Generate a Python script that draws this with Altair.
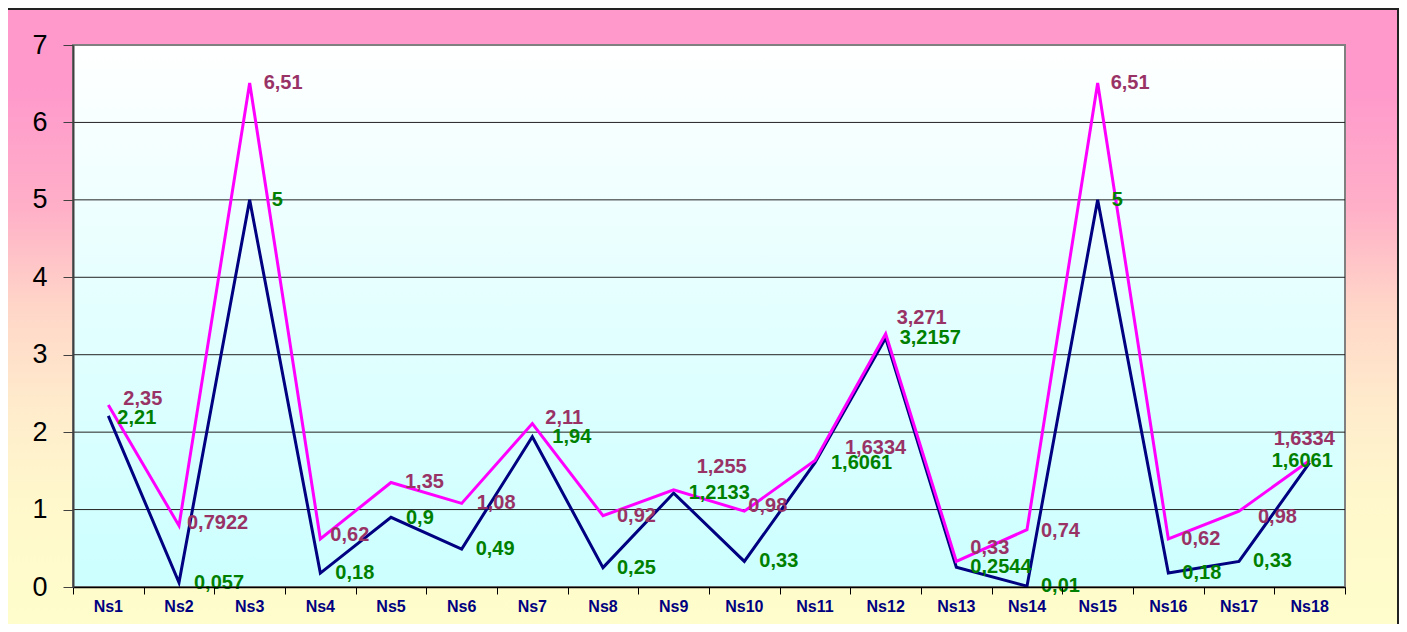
import altair as alt
import pandas as pd

categories = ["Ns1", "Ns2", "Ns3", "Ns4", "Ns5", "Ns6", "Ns7", "Ns8", "Ns9",
              "Ns10", "Ns11", "Ns12", "Ns13", "Ns14", "Ns15", "Ns16", "Ns17", "Ns18"]
series_navy = [2.21, 0.057, 5, 0.18, 0.9, 0.49, 1.94, 0.25, 1.2133, 0.33,
               1.6061, 3.2157, 0.2544, 0.01, 5, 0.18, 0.33, 1.6061]
series_magenta = [2.35, 0.7922, 6.51, 0.62, 1.35, 1.08, 2.11, 0.92, 1.255, 0.98,
                  1.6334, 3.271, 0.33, 0.74, 6.51, 0.62, 0.98, 1.6334]
y_ticks = [0, 1, 2, 3, 4, 5, 6, 7]
grid_values = [1, 2, 3, 4, 5, 6]

# label nudges (pixels, right / down) relative to each point, as placed in the original
navy_nudge_x = [9, 15, 22, 15, 15, 14, 20, 14, 15, 15, 16, 14, 14, 14, 14, 14, 14, -38]
navy_nudge_y = [2, 0, 0, 0, 1, 0, 0, 0, 0, 0, 0, 0, 0, 0, 0, 0, 0, -2]
mag_nudge_x = [15, 8, 14, 10, 14, 15, 13, 14, 23, 4, 30, 11, 14, 14, 13, 13, 19, -36]
mag_nudge_y = [-6, -3, 0, -4, 0, 0, -6, 0, -23, -5, -13, -16, -13, 1, 0, 0, 6, -22]

W, H = 1272, 542
FONT = "Liberation Sans"
X_UNIT = W / 18.0
Y_UNIT = H / 7.0


def fmt(v):
    return str(v).replace(".", ",")


df = pd.DataFrame({
    "i": list(range(1, len(categories) + 1)),
    "cat": categories,
    "a": series_navy,
    "b": series_magenta,
    "la": [fmt(v) for v in series_navy],
    "lb": [fmt(v) for v in series_magenta],
    "nax": navy_nudge_x, "nay": navy_nudge_y,
    "nbx": mag_nudge_x, "nby": mag_nudge_y,
})
grid_df = pd.DataFrame({"g": grid_values})
one = pd.DataFrame({"k": [0]})

xscale = alt.Scale(domain=[0.5, 18.5], nice=False, zero=False)
yscale = alt.Scale(domain=[0, 7], nice=False, zero=True)
xaxis = alt.Axis(values=[k + 0.5 for k in range(0, 19)], labels=False, ticks=True,
                 tickSize=7, tickColor="#000000", domainColor="#000000",
                 domainWidth=1.5, grid=False, title=None, zindex=1)
yaxis = alt.Axis(values=y_ticks, grid=False, tickSize=10, tickColor="#404040",
                 domainColor="#404040", domainWidth=2, labelFontSize=27,
                 labelFont=FONT, labelColor="#000000", labelPadding=16,
                 title=None, zindex=1)

outer_grad = alt.LinearGradient(
    gradient="linear", x1=0, x2=0, y1=0, y2=1,
    stops=[alt.GradientStop(color="#FF99CC", offset=0),
           alt.GradientStop(color="#FF99CC", offset=0.12),
           alt.GradientStop(color="#FFAFC8", offset=0.3),
           alt.GradientStop(color="#FFD5C8", offset=0.45),
           alt.GradientStop(color="#FFEBCC", offset=0.6),
           alt.GradientStop(color="#FFF8CC", offset=0.75),
           alt.GradientStop(color="#FFFFCC", offset=1)])
plot_grad = alt.LinearGradient(
    gradient="linear", x1=0, x2=0, y1=0, y2=1,
    stops=[alt.GradientStop(color="#FFFFFF", offset=0),
           alt.GradientStop(color="#E6FFFF", offset=0.45),
           alt.GradientStop(color="#CCFFFF", offset=1)])

outer = alt.Chart(one).mark_rect(fill=outer_grad, stroke="#222222", strokeWidth=2).encode(
    x=alt.value(-66), x2=alt.value(1325), y=alt.value(-36), y2=alt.value(620))
plotbg = alt.Chart(one).mark_rect(fill=plot_grad, stroke="#808080", strokeWidth=2).encode(
    x=alt.value(0), x2=alt.value(W), y=alt.value(0), y2=alt.value(H))
grid = alt.Chart(grid_df).mark_rule(color="#222222", strokeWidth=1).encode(
    y=alt.Y("g:Q", scale=yscale, axis=yaxis))

navy = alt.Chart(df).mark_line(color="#000080", strokeWidth=3).encode(
    x=alt.X("i:Q", scale=xscale, axis=xaxis),
    y=alt.Y("a:Q", scale=yscale, axis=yaxis))
magenta = alt.Chart(df).mark_line(color="#FF00FF", strokeWidth=3).encode(
    x=alt.X("i:Q", scale=xscale, axis=xaxis),
    y=alt.Y("b:Q", scale=yscale, axis=yaxis))

navy_lab = alt.Chart(df).transform_calculate(
    lx=f"datum.i + datum.nax / {X_UNIT}",
    ly=f"datum.a - datum.nay / {Y_UNIT}",
).mark_text(align="left", baseline="middle", fontSize=20, fontWeight="bold",
            font=FONT, color="#008000").encode(
    x=alt.X("lx:Q", scale=xscale, axis=xaxis),
    y=alt.Y("ly:Q", scale=yscale, axis=yaxis),
    text="la:N")
mag_lab = alt.Chart(df).transform_calculate(
    lx=f"datum.i + datum.nbx / {X_UNIT}",
    ly=f"datum.b - datum.nby / {Y_UNIT}",
).mark_text(align="left", baseline="middle", fontSize=20, fontWeight="bold",
            font=FONT, color="#993366").encode(
    x=alt.X("lx:Q", scale=xscale, axis=xaxis),
    y=alt.Y("ly:Q", scale=yscale, axis=yaxis),
    text="lb:N")
xlab = alt.Chart(df).mark_text(align="center", baseline="middle", fontSize=16,
                               fontWeight="bold", font=FONT, color="#000080").encode(
    x=alt.X("i:Q", scale=xscale, axis=xaxis),
    y=alt.value(H + 20),
    text="cat:N")

chart = alt.layer(outer, plotbg, grid, navy, magenta, mag_lab, navy_lab, xlab).properties(
    width=W, height=H,
    autosize=alt.AutoSizeParams(type="none"),
    padding={"left": 65, "top": 37, "right": 54, "bottom": 37},
    background="white",
).configure_view(stroke=None)

chart.save("out.html", embed_options={"renderer": "svg", "actions": False})
